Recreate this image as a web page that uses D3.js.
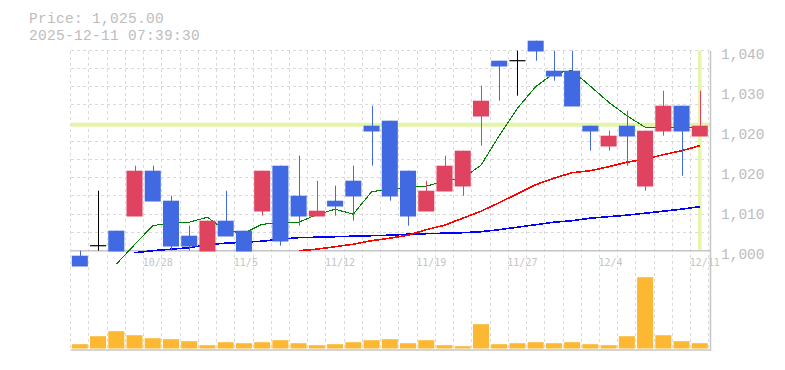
<!DOCTYPE html>
<html>
<head>
<meta charset="utf-8">
<script src="https://cdn.jsdelivr.net/npm/d3@7"></script>
<style>
  body { margin: 0; background: #fff; }
</style>
</head>
<body>
<div id="chart"></div>
<script>
var dates = ["10/22", "10/23", "10/24", "10/27", "10/28", "10/29", "10/30", "10/31", "11/4", "11/5",
             "11/6", "11/7", "11/10", "11/11", "11/12", "11/13", "11/14", "11/17", "11/18", "11/19",
             "11/20", "11/21", "11/25", "11/26", "11/27", "11/28", "12/1", "12/2", "12/3", "12/4",
             "12/5", "12/8", "12/9", "12/10", "12/11"];

var opens  = [999, 1001, 1004, 1007, 1016, 1010, 1003, 1000, 1006, 1004,
              1008, 1017, 1011, 1007, 1010, 1014, 1025, 1026, 1016, 1008,
              1012, 1013, 1027, 1038, 1038, 1042, 1036, 1036, 1025, 1021,
              1025, 1013, 1024, 1029, 1023];
var highs  = [1000, 1012, 1004, 1017, 1017, 1011, 1005, 1006, 1012, 1004,
              1016, 1017, 1019, 1014, 1013, 1017, 1029, 1026, 1016, 1014,
              1019, 1020, 1033, 1038, 1040, 1042, 1040, 1040, 1025, 1024,
              1028, 1024, 1032, 1029, 1032];
var lows   = [997, 1000, 1000, 1007, 1010, 1000, 1000, 1000, 1003, 1000,
              1007, 1001, 1005, 1007, 1007, 1006, 1017, 1010, 1005, 1008,
              1012, 1011, 1021, 1030, 1031, 1038, 1034, 1029, 1020, 1020,
              1017, 1012, 1023, 1015, 1023];
var closes = [997, 1001, 1000, 1016, 1010, 1001, 1001, 1006, 1003, 1000,
              1016, 1002, 1007, 1008, 1009, 1011, 1024, 1011, 1007, 1012,
              1017, 1020, 1030, 1037, 1038, 1040, 1035, 1029, 1024, 1023,
              1023, 1024, 1029, 1024, 1025];

var volumes = [43, 123, 173, 133, 103, 93, 73, 33, 63, 53,
               63, 83, 53, 33, 43, 63, 83, 93, 53, 83,
               33, 23, 243, 43, 53, 63, 53, 63, 43, 33,
               123, 713, 133, 73, 53];

// moving averages (null where the line is not drawn)
var ma5 = [null, null, 997.3, 1001.2, 1005.0, 1005.6, 1005.7, 1006.7, 1004.0, 1003.5,
           1005.3, 1005.5, 1005.7, 1007.2, 1008.3, 1007.3, 1011.8, 1012.3, 1012.7, 1012.9,
           1013.9, 1014.5, 1017.1, 1023.0, 1028.5, 1032.8, 1035.5, 1036.0, 1032.9, 1029.7,
           1027.0, 1024.7, 1024.7, 1024.7, 1024.7];
var ma25 = [null, null, null, null, null, null, null, null, null, null,
            null, null, 1000.0, 1000.3, 1000.8, 1001.3, 1002.0, 1002.5, 1003.1, 1004.2,
            1005.1, 1006.5, 1007.9, 1009.6, 1011.4, 1013.2, 1014.5, 1015.6, 1016.0, 1016.8,
            1017.7, 1018.3, 1019.2, 1020.0, 1021.0];
var ma75 = [null, null, null, 999.6, 1000.0, 1000.3, 1000.6, 1001.2, 1001.5, 1001.7,
            1001.9, 1002.3, 1002.6, 1002.7, 1002.8, 1002.9, 1003.0, 1003.1, 1003.3, 1003.4,
            1003.5, 1003.6, 1003.8, 1004.2, 1004.7, 1005.2, 1005.7, 1006.0, 1006.5, 1006.8,
            1007.1, 1007.5, 1007.9, 1008.3, 1008.8];

var priceTicks = [1000, 1008, 1016, 1024, 1032, 1040];
var priceTickLabels = ["1,000", "1,010", "1,020", "1,020", "1,030", "1,040"];
var dateTicks = ["10/28", "11/5", "11/12", "11/19", "11/27", "12/4", "12/11"];

var lastPrice = 1025;
var titleLines = ["Price: 1,025.00", "2025-12-11 07:39:30"];

function init() {

    var w = 785;
    var h = 370;

    var left = 70.7, right = 708.9;
    var top = 50.7, bottom = 250.7;
    var volTop = 268.5, volBottom = 348.5;

    var xScale = d3.scaleBand()
                   .domain(dates)
                   .range([left, right]);
    var step = xScale.step();
    var bw = xScale.bandwidth();

    var yScale = d3.scaleLinear()
                   .domain([1000, 1040])
                   .range([bottom, top]);

    var vScale = d3.scaleLinear()
                   .domain([0, 800])
                   .range([volBottom, volTop]);

    var svg = d3.select("#chart")
                .append("svg")
                .attr("width", w)
                .attr("height", h);

    var cx = function(i) { return xScale(dates[i]) + bw / 2; };

    // grid
    var grid = svg.append("g")
                  .attr("stroke", "#dadada")
                  .attr("stroke-width", 1)
                  .attr("stroke-dasharray", "3,3")
                  .attr("shape-rendering", "crispEdges");

    grid.selectAll(".vgrid")
        .data(d3.range(dates.length + 1))
        .enter()
        .append("line")
        .attr("x1", function(i) { return left + i * step; })
        .attr("x2", function(i) { return left + i * step; })
        .attr("y1", top)
        .attr("y2", volBottom);

    grid.selectAll(".hgrid")
        .data(d3.range(1, 12))
        .enter()
        .append("line")
        .attr("x1", left)
        .attr("x2", right)
        .attr("y1", function(k) { return bottom - k * step; })
        .attr("y2", function(k) { return bottom - k * step; });

    // current price markers
    svg.append("line")
       .attr("x1", left).attr("x2", 710)
       .attr("y1", yScale(lastPrice) - 1).attr("y2", yScale(lastPrice) - 1)
       .attr("stroke", "#e5f5a8")
       .attr("stroke-width", 4);

    svg.append("line")
       .attr("x1", cx(dates.length - 1)).attr("x2", cx(dates.length - 1))
       .attr("y1", top).attr("y2", bottom)
       .attr("stroke", "#e5f5a8")
       .attr("stroke-width", 3.5);

    // axes lines
    svg.append("line")
       .attr("x1", left).attr("x2", 710.5)
       .attr("y1", bottom).attr("y2", bottom)
       .attr("stroke", "#c6c6c6").attr("stroke-width", 1.5);
    svg.append("line")
       .attr("x1", left).attr("x2", 710.5)
       .attr("y1", 350).attr("y2", 350)
       .attr("stroke", "#c6c6c6").attr("stroke-width", 1.5);
    svg.append("line")
       .attr("x1", 710.5).attr("x2", 710.5)
       .attr("y1", top).attr("y2", 350.7)
       .attr("stroke", "#c6c6c6").attr("stroke-width", 1.5);

    // moving averages
    var maLines = [
        { values: ma75, color: "#0000ff" },
        { values: ma25, color: "#ff0000" },
        { values: ma5,  color: "#008000" }
    ];

    var line = d3.line()
                 .defined(function(d) { return d != null; })
                 .x(function(d, i) { return cx(i); })
                 .y(function(d) { return yScale(d); });

    svg.selectAll(".ma")
       .data(maLines)
       .enter()
       .append("path")
       .attr("d", function(d) { return line(d.values); })
       .attr("fill", "none")
       .attr("stroke", function(d) { return d.color; })
       .attr("stroke-width", function(d) { return d.color == "#008000" ? 1.1 : 1.6; })
       .attr("shape-rendering", "crispEdges");

    // candles
    var colorOf = function(i) {
        if (closes[i] > opens[i]) return "#e0435f";
        if (closes[i] < opens[i]) return "#4169e1";
        return "#000000";
    };

    var idx = d3.range(dates.length);

    svg.selectAll(".wick")
       .data(idx)
       .enter()
       .append("line")
       .attr("x1", function(i) { return Math.round(cx(i)) + 0.5; })
       .attr("x2", function(i) { return Math.round(cx(i)) + 0.5; })
       .attr("y1", function(i) { return yScale(highs[i]); })
       .attr("y2", function(i) { return yScale(lows[i]); })
       .attr("stroke", colorOf)
       .attr("stroke-width", 1);

    svg.selectAll(".body")
       .data(idx.filter(function(i) { return opens[i] != closes[i]; }))
       .enter()
       .append("rect")
       .attr("x", function(i) { return xScale(dates[i]) + 1.1; })
       .attr("y", function(i) { return yScale(Math.max(opens[i], closes[i])); })
       .attr("width", bw - 2.2)
       .attr("height", function(i) {
           return yScale(Math.min(opens[i], closes[i])) - yScale(Math.max(opens[i], closes[i])) + 0.8;
       })
       .attr("fill", colorOf);

    svg.selectAll(".doji")
       .data(idx.filter(function(i) { return opens[i] == closes[i]; }))
       .enter()
       .append("line")
       .attr("x1", function(i) { return xScale(dates[i]) + 1.1; })
       .attr("x2", function(i) { return xScale(dates[i]) + bw - 1.1; })
       .attr("y1", function(i) { return yScale(opens[i]); })
       .attr("y2", function(i) { return yScale(opens[i]); })
       .attr("stroke", "#000")
       .attr("stroke-width", 1.2);

    // volume
    svg.selectAll(".vol")
       .data(idx)
       .enter()
       .append("rect")
       .attr("x", function(i) { return xScale(dates[i]) + 1.1; })
       .attr("y", function(i) { return vScale(volumes[i]); })
       .attr("width", bw - 2.2)
       .attr("height", function(i) { return volBottom - vScale(volumes[i]); })
       .attr("fill", "#fdb833");

    // y axis labels
    var yAxis = d3.axisRight(yScale)
                  .tickValues(priceTicks)
                  .tickSize(0)
                  .tickPadding(11)
                  .tickFormat(function(d, i) { return priceTickLabels[i]; });

    var gy = svg.append("g")
                .attr("transform", "translate(710,0)")
                .call(yAxis);
    gy.select(".domain").remove();
    gy.selectAll("text")
      .attr("dy", "0.55em")
      .attr("fill", "#bcbcbc")
      .attr("font-family", "Liberation Mono, monospace")
      .attr("font-size", 14.5);

    // x axis labels
    var xAxis = d3.axisBottom(xScale)
                  .tickValues(dateTicks)
                  .tickSize(0)
                  .tickPadding(0);

    var gx = svg.append("g")
                .attr("transform", "translate(0," + bottom + ")")
                .call(xAxis);
    gx.select(".domain").remove();
    gx.selectAll("text")
      .attr("text-anchor", "start")
      .attr("x", -bw / 2 - 1)
      .attr("y", 15.5)
      .attr("dy", 0)
      .attr("fill", "#c4c4c4")
      .attr("font-family", "DejaVu Sans Mono, monospace")
      .attr("font-size", 10);

    // title
    svg.selectAll(".title")
       .data(titleLines)
       .enter()
       .append("text")
       .attr("class", "title")
       .attr("x", 29)
       .attr("y", function(d, i) { return 22.5 + i * 17; })
       .attr("fill", "#bdbdbd")
       .attr("font-family", "Liberation Mono, monospace")
       .attr("font-size", 14.5)
       .attr("letter-spacing", 0.3)
       .text(function(d) { return d; });
}

window.onload = init;
</script>
</body>
</html>
